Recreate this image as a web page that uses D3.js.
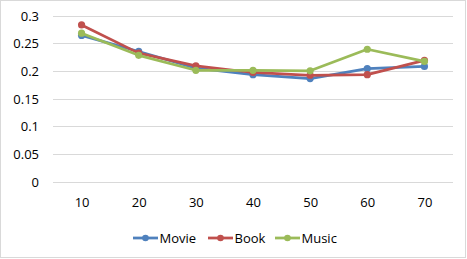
<!DOCTYPE html>
<html>
<head>
<meta charset="utf-8">
<script src="https://cdn.jsdelivr.net/npm/d3@7"></script>
<style>
  body { margin: 0; background: #fff; }
  svg text { font-family: "Open Sans", sans-serif; fill: #000; }
</style>
</head>
<body>
<svg id="chart" width="467" height="259"></svg>
<script>
// data
var categories = ["10", "20", "30", "40", "50", "60", "70"];
var movie = [0.264, 0.235, 0.205, 0.193, 0.186, 0.204, 0.208];
var book  = [0.283, 0.232, 0.209, 0.197, 0.192, 0.193, 0.219];
var music = [0.268, 0.228, 0.201, 0.201, 0.200, 0.239, 0.217];
var yTicks = [0, 0.05, 0.1, 0.15, 0.2, 0.25, 0.3];
var seriesNames = ["Movie", "Book", "Music"];
var colors = ["#4F81BD", "#C0504D", "#9BBB59"];

var series = [movie, book, music].map(function(vals, i){
	return {name: seriesNames[i], color: colors[i], values: vals};
});

var svg = d3.select("#chart");

// outer chart border
svg.append("rect")
	.attr("x", 0.5).attr("y", 0.5)
	.attr("width", 465).attr("height", 257)
	.attr("fill", "none").attr("stroke", "#D9D9D9");

var plot = {l: 53, r: 453, t: 15.5, b: 181.5};

var x = d3.scalePoint()
	.domain(categories)
	.range([plot.l, plot.r])
	.padding(0.5);

var y = d3.scaleLinear()
	.domain([0, 0.3])
	.range([plot.b, plot.t]);

// gridlines
svg.append("g")
	.selectAll("line").data(yTicks).enter()
	.append("line")
	.attr("x1", plot.l).attr("x2", plot.r)
	.attr("y1", function(d){ return Math.round(y(d)) + 0.5; })
	.attr("y2", function(d){ return Math.round(y(d)) + 0.5; })
	.attr("stroke", "#D9D9D9").attr("stroke-width", 1);

// y axis labels
var yAxis = d3.axisLeft(y).tickValues(yTicks).tickSize(0).tickPadding(12)
	.tickFormat(function(d){ return String(d); });
svg.append("g")
	.attr("transform", "translate(" + (plot.l - 2) + ",0)")
	.call(yAxis)
	.call(function(g){ g.select(".domain").remove(); })
	.selectAll("text")
	.style("font-size", "13px")
	.attr("dy", "0.35em");

// x axis labels
var xAxis = d3.axisBottom(x).tickSize(0).tickPadding(16);
svg.append("g")
	.attr("transform", "translate(0," + plot.b + ")")
	.call(xAxis)
	.call(function(g){ g.select(".domain").remove(); })
	.selectAll("text")
	.style("font-size", "13px");

// lines
var line = d3.line()
	.x(function(d, i){ return x(categories[i]); })
	.y(function(d){ return y(d); });

var sg = svg.append("g").selectAll("g.series").data(series).enter()
	.append("g").attr("class", "series");

sg.append("path")
	.attr("d", function(s){ return line(s.values); })
	.attr("fill", "none")
	.attr("stroke", function(s){ return s.color; })
	.attr("stroke-width", 2.75)
	.attr("stroke-linejoin", "round");

sg.selectAll("circle").data(function(s){
		return s.values.map(function(v, i){ return {v: v, c: categories[i], color: s.color}; });
	}).enter()
	.append("circle")
	.attr("cx", function(d){ return x(d.c); })
	.attr("cy", function(d){ return y(d.v); })
	.attr("r", 3.6)
	.attr("fill", function(d){ return d.color; });

// legend
var legendX = [133, 208, 275];
var lg = svg.append("g").selectAll("g").data(series).enter()
	.append("g")
	.attr("transform", function(d, i){ return "translate(" + legendX[i] + ",238)"; });

lg.append("line")
	.attr("x1", 0).attr("x2", 25)
	.attr("stroke", function(d){ return d.color; })
	.attr("stroke-width", 2.75);
lg.append("circle")
	.attr("cx", 12.5).attr("r", 3.3)
	.attr("fill", function(d){ return d.color; });
lg.append("text")
	.attr("x", 26.5).attr("dy", "0.35em")
	.style("font-size", "13px")
	.text(function(d){ return d.name; });
</script>
</body>
</html>
